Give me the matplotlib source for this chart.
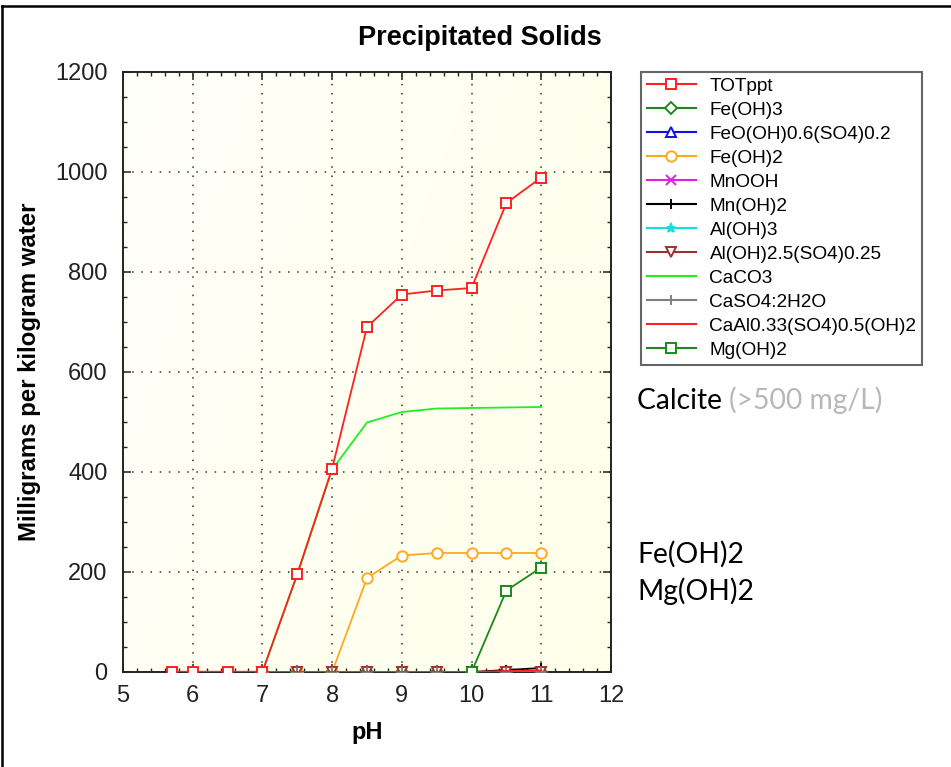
import numpy as np
from matplotlib import pyplot as plt
from matplotlib.lines import Line2D

# pH steps of the titration
ph_tot = [5.7, 6.0, 6.5, 7.0, 7.5, 8.0, 8.5, 9.0, 9.5, 10.0, 10.5, 11.0]
ph = [7.0, 7.5, 8.0, 8.5, 9.0, 9.5, 10.0, 10.5, 11.0]
ph_mg = [10.0, 10.5, 11.0]

# mg per kg water
tot_ppt = [0.5, 0.5, 0.5, 0.5, 196, 407, 690, 755, 763, 768, 938, 989]
fe_oh3 = [0, 0, 0, 0, 0, 0, 0, 0, 0]
feooh_so4 = [0, 0, 0, 0, 0, 0, 0, 0, 0]
fe_oh2 = [0, 0, 0, 188, 233, 238, 238, 238, 238]
mnooh = [0, 0, 0, 0, 0, 0, 0, 0, 0]
mn_oh2 = [0, 0, 0, 0, 0, 0, 0, 4, 8]
al_oh3 = [0, 0, 0, 0, 0, 0, 0, 0, 0]
al_oh_so4 = [0, 0, 0, 0, 0, 0, 0, 0, 0]
caco3 = [0, 195, 405, 499, 520, 527, 528, 529, 530]
gypsum = [0, 0, 0, 0, 0, 0, 0, 0, 0]
caal_so4 = [0, 0, 0, 0, 0, 0, 0, 2, 3]
mg_oh2 = [0, 163, 209]

plt.rcParams['font.family'] = ['Liberation Sans', 'DejaVu Sans']

fig = plt.figure(figsize=(9.51, 7.67), dpi=100)
ax = fig.add_axes([123 / 951, 95 / 767, 488 / 951, 600 / 767])

# soft white -> cream background
gx, gy = np.meshgrid(np.linspace(0, 1, 200), np.linspace(0, 1, 200))
t = np.clip(0.7 * gx + 0.3 * gy, 0, 1)
bg = np.zeros((200, 200, 3))
bg[..., 0] = 1.0
bg[..., 1] = 1.0
bg[..., 2] = (250 - 16 * t) / 255
ax.imshow(bg, extent=[5, 12, 0, 1200], aspect='auto', origin='upper', zorder=0)

ms = 7.5
series = [
    (ph_tot, tot_ppt, 'TOTppt', '#ff2020', 's'),
    (ph, fe_oh3, 'Fe(OH)3', '#1a8a1a', 'D'),
    (ph, feooh_so4, 'FeO(OH)0.6(SO4)0.2', '#1010e0', '^'),
    (ph, fe_oh2, 'Fe(OH)2', '#ffa91f', 'o'),
    (ph, mnooh, 'MnOOH', '#e020e0', 'x'),
    (ph, mn_oh2, 'Mn(OH)2', '#000000', '+'),
    (ph, al_oh3, 'Al(OH)3', '#10e0e0', '*'),
    (ph, al_oh_so4, 'Al(OH)2.5(SO4)0.25', '#a03030', 'v'),
    (ph, caco3, 'CaCO3', '#22ee22', None),
    (ph, gypsum, 'CaSO4:2H2O', '#808080', '+'),
    (ph, caal_so4, 'CaAl0.33(SO4)0.5(OH)2', '#ff2020', None),
    (ph_mg, mg_oh2, 'Mg(OH)2', '#1a8a1a', 's'),
]

handles = []
for i, (xs, ys, name, col, mk) in enumerate(series):
    small = mk in ('D', '^', 'v', '*', 'x', '+')
    size = 6.5 if small else ms
    face = 'white' if mk in ('s', 'o', 'D', '^', 'v') else col
    ax.plot(xs, ys, color=col, lw=1.3, marker=mk, ms=size,
            mfc=face, mec=col, mew=1.4, zorder=3 + i)
    handles.append(Line2D([], [], color=col, lw=1.5, marker=mk, ms=size,
                          mfc=face, mec=col, mew=1.4, label=name))

# TOTppt drawn above the rest
ax.lines[0].set_zorder(20)

ax.set_xlim(5, 12)
ax.set_ylim(0, 1200)
ax.set_xticks(range(5, 13))
ax.set_yticks(range(0, 1201, 200))
ax.set_xticks(np.arange(5, 12.01, 0.2), minor=True)
ax.set_yticks(range(0, 1201, 50), minor=True)
ax.tick_params(which='both', direction='in', top=True, right=True, colors='#222222')
ax.tick_params(which='major', length=6, width=1.1, labelsize=17, pad=9)
ax.tick_params(which='minor', length=3, width=1.0)
ax.tick_params(axis='y', which='major', pad=11)
for sp in ax.spines.values():
    sp.set_linewidth(1.4)
    sp.set_color('#222222')
ax.grid(True, which='major', color='#333333', linestyle=(0, (1, 5)), linewidth=1.1)
ax.set_axisbelow(False)

fig.text(480 / 951, 1 - 38 / 767, 'Precipitated Solids', ha='center', va='center',
         fontsize=19.5, fontweight='bold')
fig.text(30 / 951, 1 - 372 / 767, 'Milligrams per kilogram water', ha='center',
         va='center', rotation=90, fontsize=17.3, fontweight='bold')
fig.text(367 / 951, 1 - 733 / 767, 'pH', ha='center', va='center',
         fontsize=17, fontweight='bold')

leg = fig.legend(handles=handles, loc='upper left',
                 bbox_to_anchor=(641 / 951, 1 - 72 / 767), fontsize=13.7,
                 frameon=True, fancybox=False, edgecolor='#404040',
                 handlelength=2.6, handletextpad=0.7, labelspacing=0.35,
                 borderpad=0.3, borderaxespad=0)
leg.get_frame().set_linewidth(1.5)

# notes on the right
note_font = ['Lato', 'DejaVu Sans']
t1 = fig.text(637 / 951, 1 - 409 / 767, 'Calcite ', fontsize=20.3, family=note_font,
              va='baseline')
fig.canvas.draw()
bb = t1.get_window_extent()
fig.text(bb.x1 / 951, 1 - 409 / 767, '(>500 mg/L)', fontsize=20.3, family=note_font,
         color='#b8b8b8', va='baseline')
fig.text(637 / 951, 1 - 563 / 767, 'Fe(OH)2', fontsize=20.3, family=note_font,
         va='baseline')
fig.text(637 / 951, 1 - 600 / 767, 'Mg(OH)2', fontsize=20.3, family=note_font,
         va='baseline')

# outer frame lines (top and left)
fig.add_artist(Line2D([1.5 / 951, 1.5 / 951], [0, 1 - 6 / 767], color='black', lw=1.8))
fig.add_artist(Line2D([1.5 / 951, 1], [1 - 6 / 767, 1 - 6 / 767], color='black', lw=1.8))

fig.savefig('out.png', dpi=100)
